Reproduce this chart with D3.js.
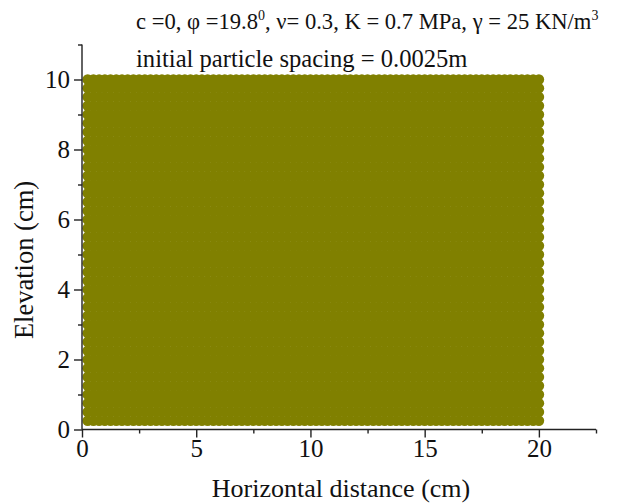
<!DOCTYPE html>
<html>
<head>
<meta charset="utf-8">
<script src="https://cdn.jsdelivr.net/npm/d3@7"></script>
<style>
  html, body { margin: 0; padding: 0; background: #fff; }
  svg { display: block; }
  text { font-family: "Liberation Serif", "Times New Roman", serif; fill: #111; }
</style>
</head>
<body>
<script>
// Particle column positions (cm), spacing 0.25 cm
const columnX = [
  0.25, 0.5, 0.75, 1, 1.25, 1.5, 1.75, 2, 2.25, 2.5, 2.75, 3, 3.25, 3.5, 3.75, 4,
  4.25, 4.5, 4.75, 5, 5.25, 5.5, 5.75, 6, 6.25, 6.5, 6.75, 7, 7.25, 7.5, 7.75, 8,
  8.25, 8.5, 8.75, 9, 9.25, 9.5, 9.75, 10, 10.25, 10.5, 10.75, 11, 11.25, 11.5, 11.75, 12,
  12.25, 12.5, 12.75, 13, 13.25, 13.5, 13.75, 14, 14.25, 14.5, 14.75, 15, 15.25, 15.5, 15.75, 16,
  16.25, 16.5, 16.75, 17, 17.25, 17.5, 17.75, 18, 18.25, 18.5, 18.75, 19, 19.25, 19.5, 19.75, 20
];
// Particle row positions (cm), spacing 0.25 cm
const rowY = [
  0.25, 0.5, 0.75, 1, 1.25, 1.5, 1.75, 2, 2.25, 2.5, 2.75, 3, 3.25, 3.5, 3.75, 4,
  4.25, 4.5, 4.75, 5, 5.25, 5.5, 5.75, 6, 6.25, 6.5, 6.75, 7, 7.25, 7.5, 7.75, 8,
  8.25, 8.5, 8.75, 9, 9.25, 9.5, 9.75, 10
];
const xMajorTicks = [0, 5, 10, 15, 20];
const xMinorTicks = [2.5, 7.5, 12.5, 17.5, 22.5];
const yMajorTicks = [0, 2, 4, 6, 8, 10];
const yMinorTicks = [1, 3, 5, 7, 9, 11];
const xDomain = [0, 22.5];
const yDomain = [0, 11];

const W = 617, H = 503;
const svg = d3.select("body").append("svg").attr("width", W).attr("height", H);

const x = d3.scaleLinear().domain(xDomain).range([82, 596]);
const y = d3.scaleLinear().domain(yDomain).range([429.5, 44.5]);

// particles
const particles = [];
rowY.forEach(py => columnX.forEach(px => particles.push({ x: px, y: py })));
svg.append("g")
  .selectAll("circle")
  .data(particles)
  .join("circle")
  .attr("cx", d => x(d.x))
  .attr("cy", d => y(d.y))
  .attr("r", 5.3)
  .attr("fill", "#808000");

// axes
const axisStyle = g => {
  g.selectAll(".domain").attr("stroke", "#222").attr("stroke-width", 1.4);
  g.selectAll(".tick line").attr("stroke", "#222").attr("stroke-width", 1.4);
  g.selectAll("text").style("font-family", '"Liberation Serif", serif').style("font-size", "25px").attr("fill", "#111");
};

const xg = svg.append("g").attr("transform", `translate(0,${y(0)})`);
xg.call(d3.axisBottom(x).tickValues(xMajorTicks).tickSizeOuter(0).tickSize(8).tickPadding(2).tickFormat(d3.format("d")))
  .call(axisStyle);
xg.selectAll(".domain").attr("d", `M${x(0)},0H${x(22.5)}`);
svg.append("g").attr("transform", `translate(0,${y(0)})`)
  .call(d3.axisBottom(x).tickValues(xMinorTicks).tickSize(4).tickSizeOuter(0).tickFormat(""))
  .call(axisStyle)
  .call(g => g.select(".domain").remove());

const yg = svg.append("g").attr("transform", `translate(${x(0)},0)`);
yg.call(d3.axisLeft(y).tickValues(yMajorTicks).tickSizeOuter(0).tickSize(8).tickPadding(4).tickFormat(d3.format("d")))
  .call(axisStyle);
yg.selectAll(".domain").attr("d", `M0,${y(0)}V${y(11)}`);
svg.append("g").attr("transform", `translate(${x(0)},0)`)
  .call(d3.axisLeft(y).tickValues(yMinorTicks).tickSize(4).tickSizeOuter(0).tickFormat(""))
  .call(axisStyle)
  .call(g => g.select(".domain").remove());

// axis titles
svg.append("text")
  .attr("x", 341)
  .attr("y", 497)
  .attr("text-anchor", "middle")
  .style("font-size", "26px")
  .text("Horizontal distance (cm)");

svg.append("text")
  .attr("transform", `translate(33,260) rotate(-90)`)
  .attr("text-anchor", "middle")
  .style("font-size", "26.5px")
  .text("Elevation (cm)");

// parameter annotation
const t1 = svg.append("text").attr("x", 136).attr("y", 29).style("font-size", "22.6px");
t1.append("tspan").text("c =0, \u03c6 =19.8");
t1.append("tspan").attr("dy", -9).style("font-size", "14px").text("0");
t1.append("tspan").attr("dy", 9).text(", \u03bd= 0.3, K = 0.7 MPa, \u03b3 = 25 KN/m");
t1.append("tspan").attr("dy", -9).style("font-size", "14px").text("3");

svg.append("text").attr("x", 136).attr("y", 67).style("font-size", "24.6px")
  .text("initial particle spacing = 0.0025m");
</script>
</body>
</html>
